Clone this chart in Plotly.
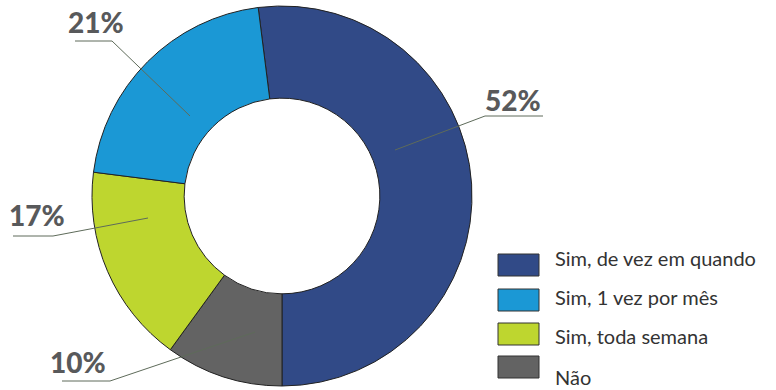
import plotly.graph_objects as go

# Data (slice order clockwise from top)
labels = ["Sim, de vez em quando", "Não", "Sim, toda semana", "Sim, 1 vez por mês"]
values = [52, 10, 17, 21]
colors = ["#314a87", "#636363", "#bed62f", "#1b98d5"]

# Legend order
legend_labels = ["Sim, de vez em quando", "Sim, 1 vez por mês", "Sim, toda semana", "Não"]

W, H = 776, 390


def px(x):
    return x / W


def py(y):
    return 1 - y / H


fig = go.Figure(go.Pie(
    labels=labels,
    values=values,
    hole=0.515,
    sort=False,
    direction="clockwise",
    rotation=-7.2,
    marker=dict(colors=colors, line=dict(color="#222222", width=1)),
    textinfo="none",
    showlegend=False,
    domain=dict(x=[px(92), px(472)], y=[py(386), py(6)]),
))

shapes = []
annotations = []

# Percentage labels with leader lines (pixel positions of label decoration)
label_specs = [
    (0, 513, 100, [(395, 150), (485, 116), (543, 116)]),
    (3, 96, 22, [(75, 41), (112, 41), (190, 116)]),
    (2, 37, 215, [(13, 236), (53, 236), (148, 218)]),
    (1, 78, 362, [(62, 381), (110, 381), (255, 332)]),
]
total = sum(values)
for idx, tx, ty, pts in label_specs:
    path = "M " + " L ".join(f"{px(x)},{py(y)}" for x, y in pts)
    shapes.append(dict(type="path", xref="paper", yref="paper", path=path,
                       line=dict(color="#5e6b5a", width=1)))
    annotations.append(dict(
        x=px(tx), y=py(ty), xref="paper", yref="paper",
        text=f"{round(values[idx] / total * 100)}%",
        showarrow=False, xanchor="center", yanchor="middle",
        font=dict(family="Lato", size=28, color="#58595b", weight=900),
    ))

# Custom legend
box_tops = [254, 289, 323, 356]
text_ys = [258, 297, 336, 377]
for i, lab in enumerate(legend_labels):
    c = colors[labels.index(lab)]
    shapes.append(dict(type="rect", xref="paper", yref="paper",
                       x0=px(498), x1=px(539), y0=py(box_tops[i] + 22), y1=py(box_tops[i]),
                       fillcolor=c, line=dict(color="#333333", width=1)))
    annotations.append(dict(
        x=px(553), y=py(text_ys[i]), xref="paper", yref="paper",
        text=lab, showarrow=False, xanchor="left", yanchor="middle",
        font=dict(family="Lato", size=20, color="#333333"),
    ))

fig.update_layout(
    width=W, height=H,
    margin=dict(l=0, r=0, t=0, b=0),
    paper_bgcolor="white", plot_bgcolor="white",
    shapes=shapes, annotations=annotations,
)

fig.write_html("out.html", config={"displayModeBar": False},
               post_script="document.body.style.margin='0px';")
